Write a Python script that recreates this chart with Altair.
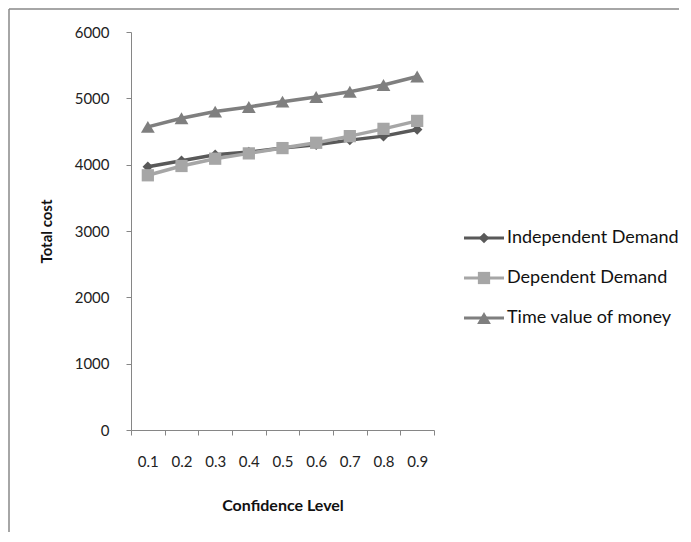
import altair as alt
import pandas as pd

levels = ["0.1", "0.2", "0.3", "0.4", "0.5", "0.6", "0.7", "0.8", "0.9"]
independent = [3970, 4060, 4150, 4190, 4250, 4300, 4370, 4430, 4530]
dependent = [3840, 3980, 4090, 4170, 4250, 4330, 4430, 4540, 4660]
time_value = [4570, 4700, 4800, 4870, 4950, 5020, 5100, 5200, 5330]
series = ["Independent Demand", "Dependent Demand", "Time value of money"]
colors = ["#595959", "#A6A6A6", "#7F7F7F"]
shapes = ["diamond", "square", "triangle-up"]
sizes = [110, 190, 200]
legend_rank = [1, 2, 3]

rows = []
for name, vals in zip(series, [independent, dependent, time_value]):
    for lv, v in zip(levels, vals):
        rows.append({"level": lv, "cost": v, "series": name})
df = pd.DataFrame(rows)

FONT = "Lato"

color_scale = alt.Scale(domain=series, range=colors)
shape_scale = alt.Scale(domain=series, range=shapes)
size_scale = alt.Scale(domain=series, range=sizes)

x_enc = alt.X(
    "level:O",
    sort=levels,
    scale=alt.Scale(type="band", paddingInner=0, paddingOuter=0),
    axis=alt.Axis(
        title="Confidence Level", labelAngle=0, tickBand="extent",
        tickSize=5, labelPadding=19, titlePadding=28,
        domainColor="#868686", tickColor="#868686",
        labelFontSize=15, titleFontSize=16, titleFontWeight="bold",
        labelColor="#222222", titleColor="#111111",
        labelFont=FONT, titleFont=FONT,
    ),
)
y_enc = alt.Y(
    "cost:Q",
    scale=alt.Scale(domain=[0, 6000], nice=False),
    axis=alt.Axis(
        title="Total cost", values=[0, 1000, 2000, 3000, 4000, 5000, 6000],
        format="d",
        grid=False, tickSize=5, labelPadding=17, titlePadding=20,
        domainColor="#868686", tickColor="#868686",
        labelFontSize=15, titleFontSize=15, titleFontWeight="bold",
        labelColor="#222222", titleColor="#111111",
        labelFont=FONT, titleFont=FONT,
    ),
)

lines = alt.Chart(df).mark_line(strokeWidth=3.5).encode(
    x=x_enc, y=y_enc,
    color=alt.Color("series:N", scale=color_scale, legend=None),
    detail="series:N",
)
points = alt.Chart(df).mark_point(filled=True, opacity=1).encode(
    x=x_enc, y=y_enc,
    color=alt.Color("series:N", scale=color_scale, legend=None),
    shape=alt.Shape("series:N", scale=shape_scale, legend=None),
    size=alt.Size("series:N", scale=size_scale, legend=None),
)

frame_data = alt.Data(values=[{"k": 1}])
frame_left = alt.Chart(frame_data).mark_rule(color="#888888", strokeWidth=1.5).encode(
    x=alt.value(-122), y=alt.value(-23), y2=alt.value(500)
)
frame_top = alt.Chart(frame_data).mark_rule(color="#888888", strokeWidth=1.5).encode(
    x=alt.value(-122), x2=alt.value(548), y=alt.value(-23)
)

main = alt.layer(frame_left, frame_top, lines, points).properties(
    width=303, height=398, view=alt.ViewBackground(stroke="transparent", strokeWidth=0)
)

# legend panel
leg_df = pd.DataFrame({"series": series, "rank": legend_rank})
leg_y = alt.Y("rank:Q", axis=None,
              scale=alt.Scale(domain=[-4.15, 5.8], reverse=True, nice=False, zero=False))
leg_x0 = alt.X("a:Q", axis=None, scale=alt.Scale(domain=[0, 4.5]))

leg_line = alt.Chart(leg_df).transform_calculate(a="0", b="1").mark_rule(strokeWidth=3).encode(
    x=leg_x0, x2="b:Q", y=leg_y,
    color=alt.Color("series:N", scale=color_scale, legend=None),
)
leg_pt = alt.Chart(leg_df).transform_calculate(a="0.5").mark_point(filled=True, opacity=1).encode(
    x=leg_x0, y=leg_y,
    color=alt.Color("series:N", scale=color_scale, legend=None),
    shape=alt.Shape("series:N", scale=shape_scale, legend=None),
    size=alt.Size("series:N", scale=alt.Scale(domain=series, range=[80, 120, 130]), legend=None),
)
leg_txt = alt.Chart(leg_df).transform_calculate(a="1").mark_text(
    align="left", baseline="middle", dx=3, fontSize=18, font=FONT, color="#111111"
).encode(x=leg_x0, y=leg_y, text="series:N")

legend = alt.layer(leg_line, leg_pt, leg_txt).properties(
    width=180, height=398, view=alt.ViewBackground(stroke="transparent", strokeWidth=0)
)

chart = alt.hconcat(main, legend, spacing=30, bounds="flush").properties(
    padding={"left": 0, "top": 0, "right": 0, "bottom": 0}
).configure_view(strokeWidth=0, stroke="transparent").configure(background="white")

chart.save("out.html", embed_options={"renderer": "svg", "actions": False})
